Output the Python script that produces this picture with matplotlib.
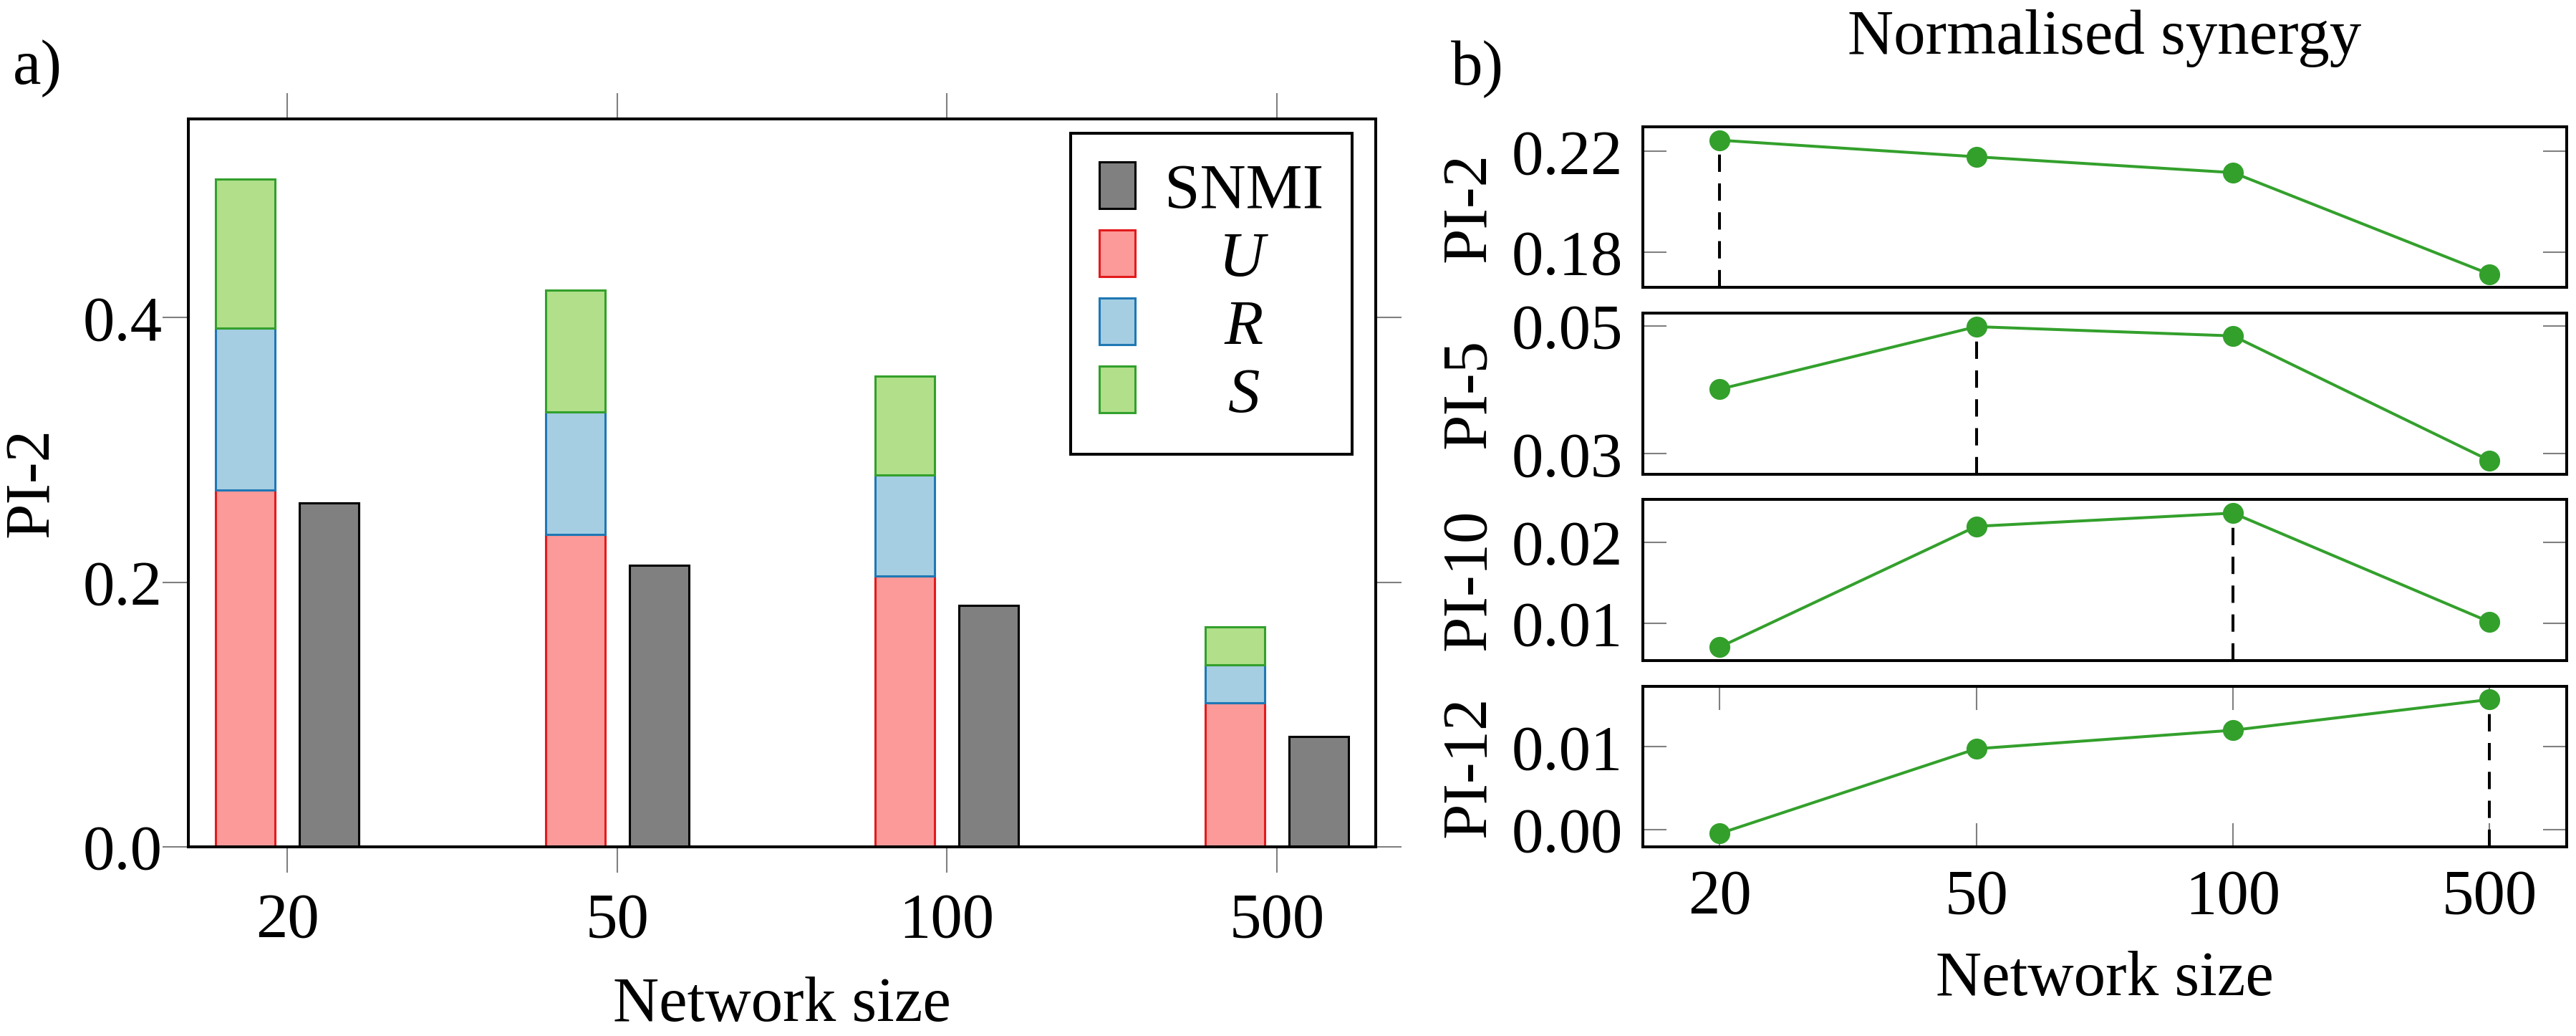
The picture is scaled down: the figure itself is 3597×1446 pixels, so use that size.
import matplotlib

matplotlib.use("Agg")

import matplotlib.pyplot as plt
import numpy as np

plt.rcParams["font.family"] = ["Liberation Serif", "DejaVu Serif"]
plt.rcParams["mathtext.fontset"] = "custom"
plt.rcParams["mathtext.rm"] = "Liberation Serif"
plt.rcParams["mathtext.it"] = "Liberation Serif:italic"
plt.rcParams["font.size"] = 32

# data
sizes = ["20", "50", "100", "500"]
snmi = [0.260, 0.213, 0.1825, 0.0833]
unique = [0.2698, 0.236, 0.2045, 0.1087]
redundant = [0.1222, 0.0927, 0.0763, 0.0290]
synergy = [0.1127, 0.0917, 0.0748, 0.0284]

panel_names = ["PI-2", "PI-5", "PI-10", "PI-12"]
norm_syn = {
    "PI-2": [0.2245, 0.2179, 0.2116, 0.1712],
    "PI-5": [0.0401, 0.0499, 0.04845, 0.0289],
    "PI-10": [0.00707, 0.02195, 0.02358, 0.01016],
    "PI-12": [-0.00048, 0.00976, 0.0120, 0.01571],
}
panel_ticks = {
    "PI-2": [0.18, 0.22],
    "PI-5": [0.03, 0.05],
    "PI-10": [0.01, 0.02],
    "PI-12": [0.00, 0.01],
}

GRAY = "#808080"
SPINE_LW = 1.45
W, H = 3598, 1446
fig = plt.figure(figsize=(W / 200, H / 200), dpi=200)

# ---- a) stacked bars
ax = fig.add_axes([263 / W, 1 - 1182 / H, (1921 - 263) / W, (1182 - 166) / H])
x = np.arange(len(sizes))
bw, off = 0.18, 0.127
u = np.array(unique)
r = np.array(redundant)
s = np.array(synergy)
b_snmi = ax.bar(x + off, snmi, bw, color="#808080", edgecolor="black", lw=1.1)
b_u = ax.bar(x - off, u, bw, color="#fb9a99", edgecolor="#e31a1c", lw=1.1)
b_r = ax.bar(x - off, r, bw, bottom=u, color="#a6cee3", edgecolor="#1f78b4", lw=1.1)
b_s = ax.bar(x - off, s, bw, bottom=u + r, color="#b2df8a", edgecolor="#33a02c", lw=1.1)
ax.set_xlim(-0.3, 3.3)
ax.set_ylim(0, 0.55)
ax.set_xticks(x, sizes)
ax.set_yticks([0.0, 0.2, 0.4], ["0.0", "0.2", "0.4"])
ax.tick_params(direction="out", length=13, width=0.75, color=GRAY,
               top=True, right=True)
ax.tick_params(axis="x", pad=10)
ax.tick_params(axis="y", pad=0)
for sp in ax.spines.values():
    sp.set_linewidth(SPINE_LW)
ax.set_xlabel("Network size", labelpad=13)
ax.set_ylabel("PI-2", va="center")
ax.yaxis.set_label_coords(-0.131, 0.5)

leg = ax.legend([b_snmi, b_u, b_r, b_s], ["SNMI", "$U$", "$R$", "$S$"],
                loc="upper right", bbox_to_anchor=(0.98, 0.98), borderaxespad=0,
                fancybox=False, edgecolor="black", framealpha=1,
                handlelength=0.56, handleheight=0.75, handletextpad=0.46,
                borderpad=0.45, labelspacing=0.14)
leg.get_frame().set_linewidth(SPINE_LW)

# ---- b) normalised synergy panels
h_px = 1005 / (4 + 3 * 0.16)
g_px = 0.16 * h_px
for i, name in enumerate(panel_names):
    top = 177 + i * (h_px + g_px)
    a = fig.add_axes([2294 / W, 1 - (top + h_px) / H, 1290 / W, h_px / H])
    vals = np.array(norm_syn[name])
    lo, hi = vals.min(), vals.max()
    pad = 0.1 * (hi - lo)
    a.set_ylim(lo - pad, hi + pad)
    a.set_xlim(-0.3, 3.3)
    k = int(np.argmax(vals))
    a.plot([x[k], x[k]], [lo - pad, vals[k]], color="black", lw=1.45,
           ls=(0, (6, 4)), zorder=2)
    a.plot(x, vals, color="#33a02c", lw=1.45, marker="o", ms=10.5, mew=0, zorder=3)
    t = panel_ticks[name]
    a.set_yticks(t, [f"{v:.2f}" for v in t])
    a.tick_params(direction="in", length=12, width=0.75, color=GRAY,
                  left=True, right=True)
    a.tick_params(axis="y", pad=10)
    if i == 3:
        a.set_xticks(x, sizes)
        a.tick_params(axis="x", top=True, bottom=True, pad=11)
        a.set_xlabel("Network size", labelpad=12)
    else:
        a.set_xticks([])
    for sp in a.spines.values():
        sp.set_linewidth(SPINE_LW)
    a.set_ylabel(name, va="center")
    a.yaxis.set_label_coords(-0.1876, 0.5)

fig.text(18 / W, 1 - 117 / H, "a)", va="baseline", ha="left")
fig.text(2026 / W, 1 - 118 / H, "b)", va="baseline", ha="left")
fig.text(2939 / W, 1 - 75 / H, "Normalised synergy", va="baseline", ha="center")

# centre the legend labels in their column
fig.canvas.draw()
rend = fig.canvas.get_renderer()
texts = leg.get_texts()
widths = [t.get_window_extent(rend).width for t in texts]
for t, w in zip(texts, widths):
    t.set_x((max(widths) - w) / 2)

fig.savefig("out.png", dpi=200)
